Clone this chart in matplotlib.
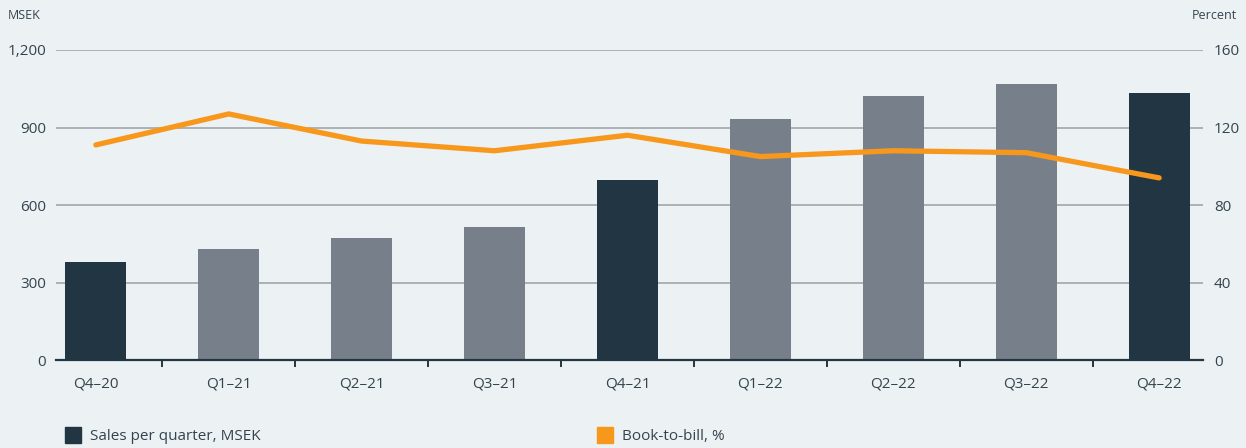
import matplotlib.pyplot as plt
from matplotlib.patches import Rectangle
from matplotlib.ticker import FuncFormatter

plt.rcParams['font.family'] = ['Open Sans', 'DejaVu Sans']

# data
quarters = ['Q4\u201320', 'Q1\u201321', 'Q2\u201321', 'Q3\u201321', 'Q4\u201321',
            'Q1\u201322', 'Q2\u201322', 'Q3\u201322', 'Q4\u201322']
sales = [380, 430, 472, 515, 697, 933, 1022, 1068, 1034]
book_to_bill = [111, 127, 113, 108, 116, 105, 108, 107, 94]
is_q4 = [True, False, False, False, True, False, False, False, True]

bg = '#ECF1F4'
dark = '#213642'
grey = '#77808A'
orange = '#F7981D'
txt = '#34444F'

fig = plt.figure(figsize=(12.46, 4.48), dpi=100, facecolor=bg)
ax = fig.add_axes([0.0449, 0.1964, 0.9206, 0.692])
ax.set_facecolor(bg)

x = list(range(len(quarters)))
colors = [dark if q else grey for q in is_q4]
ax.bar(x, sales, width=0.46, color=colors, zorder=2)
ax.set_ylim(0, 1200)
ax.set_xlim(-0.3, 8.33)
ax.set_yticks([0, 300, 600, 900, 1200])
ax.yaxis.set_major_formatter(FuncFormatter(lambda v, p: f'{int(v):,}'))
ax.grid(axis='y', color='#A0A6AC', linewidth=1.2, zorder=0)
ax.set_axisbelow(True)
for s in ['top', 'right', 'left']:
    ax.spines[s].set_visible(False)
ax.spines['bottom'].set_color(dark)
ax.spines['bottom'].set_linewidth(1.6)
ax.spines['bottom'].set_zorder(3)
ax.tick_params(axis='y', length=0, pad=7, labelsize=11, labelcolor=txt)

# category labels at centres, tick marks between categories
ax.set_xticks(x)
ax.set_xticklabels(quarters)
ax.tick_params(axis='x', which='major', length=0, pad=12, labelsize=11, labelcolor=txt)
ax.set_xticks([i + 0.5 for i in x[:-1]], minor=True)
ax.tick_params(axis='x', which='minor', length=5, width=1.4, color=dark, direction='out')

ax2 = ax.twinx()
ax2.plot(x, book_to_bill, color=orange, linewidth=3.8, solid_capstyle='round',
         solid_joinstyle='round', zorder=4)
ax2.set_ylim(0, 160)
ax2.set_yticks([0, 40, 80, 120, 160])
for s in ['top', 'right', 'left', 'bottom']:
    ax2.spines[s].set_visible(False)
ax2.tick_params(axis='y', length=0, pad=8, labelsize=11, labelcolor=txt)

fig.text(0.006, 0.965, 'MSEK', fontsize=9, color=txt, va='center', ha='left')
fig.text(0.993, 0.965, 'Percent', fontsize=9, color=txt, va='center', ha='right')

# legend
fig.patches.append(Rectangle((65 / 1246, 1 - 443 / 448), 16 / 1246, 16 / 448,
                             transform=fig.transFigure, color=dark))
fig.text(90 / 1246, 1 - 436 / 448, 'Sales per quarter, MSEK', fontsize=11, color=txt, va='center')
fig.patches.append(Rectangle((597 / 1246, 1 - 443 / 448), 16 / 1246, 16 / 448,
                             transform=fig.transFigure, color=orange))
fig.text(622 / 1246, 1 - 436 / 448, 'Book-to-bill, %', fontsize=11, color=txt, va='center')

fig.savefig('out.png', dpi=100, facecolor=bg)
